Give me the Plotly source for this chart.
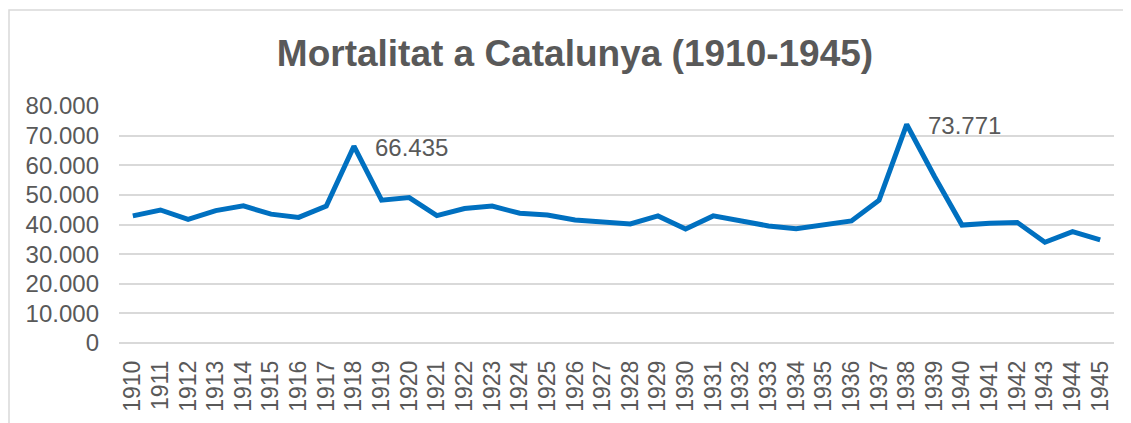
import plotly.graph_objects as go

years = [str(y) for y in range(1910, 1946)]
deaths = [42900, 44900, 41700, 44700, 46300, 43500, 42400, 46200, 66435, 48200,
          49100, 43000, 45400, 46200, 43800, 43200, 41500, 41000, 40200, 42900,
          38500, 42900, 41200, 39500, 38600, 39800, 41200, 48200, 73771, 56300,
          39800, 40400, 40700, 34000, 37600, 34800]
label_years = ["1918", "1938"]
label_texts = ["66.435", "73.771"]
y_ticks = [0, 10000, 20000, 30000, 40000, 50000, 60000, 70000, 80000]
y_tick_text = ["0", "10.000", "20.000", "30.000", "40.000", "50.000", "60.000", "70.000", "80.000"]

FONT = "Liberation Sans, Arial, sans-serif"
GREY = "#595959"
GRID = "#D9D9D9"

# the page body has an 8px default margin, so the figure is drawn 8px right/down
OFF = 8
W, H = 1131 - OFF, 423 - OFF
L, T = 119 - OFF, 106 - OFF
pw, ph = 995, 237
R, B = W - L - pw, H - T - ph

fig = go.Figure()
fig.add_trace(go.Scatter(x=years, y=deaths, mode="lines",
                         line=dict(color="#0070C0", width=5), hoverinfo="x+y"))

for yr, txt in zip(label_years, label_texts):
    i = years.index(yr)
    fig.add_annotation(x=i, y=deaths[i], text=txt, showarrow=False,
                       xanchor="left", yanchor="middle", xshift=19, yshift=-1,
                       font=dict(family=FONT, size=24, color=GREY))

fig.add_shape(type="rect", xref="paper", yref="paper",
              x0=(1 - L) / pw, x1=(W + 10 - L) / pw,
              y0=(H - B - (H + 10)) / ph, y1=(H - B - 2) / ph,
              line=dict(color=GRID, width=1.5), fillcolor="rgba(0,0,0,0)", layer="below")

fig.update_layout(
    width=W, height=H,
    margin=dict(l=L, r=R, t=T, b=B, pad=0, autoexpand=False),
    paper_bgcolor="white", plot_bgcolor="white",
    showlegend=False,
    title=dict(text="<b>Mortalitat a Catalunya (1910-1945)</b>",
               x=(575 - OFF) / W, xanchor="center", y=1 - (53 - OFF) / H, yanchor="middle",
               font=dict(family=FONT, size=37, color=GREY)),
    font=dict(family=FONT, color=GREY),
    xaxis=dict(type="category", range=[-0.5, 35.5], tickangle=-90,
               tickmode="array", tickvals=years, ticktext=years,
               showgrid=False, showline=False, zeroline=False, ticks="",
               automargin=False,
               tickfont=dict(family=FONT, size=23, color=GREY),
               ticklabelstandoff=12),
    yaxis=dict(range=[0, 80000], tickvals=y_ticks, ticktext=y_tick_text,
               showgrid=True, gridcolor=GRID, gridwidth=1.5,
               zeroline=True, zerolinecolor=GRID, zerolinewidth=1.5,
               showline=False, ticks="", automargin=False,
               tickfont=dict(family=FONT, size=24, color=GREY),
               ticklabelstandoff=19),
)

fig.write_html("out.html")
